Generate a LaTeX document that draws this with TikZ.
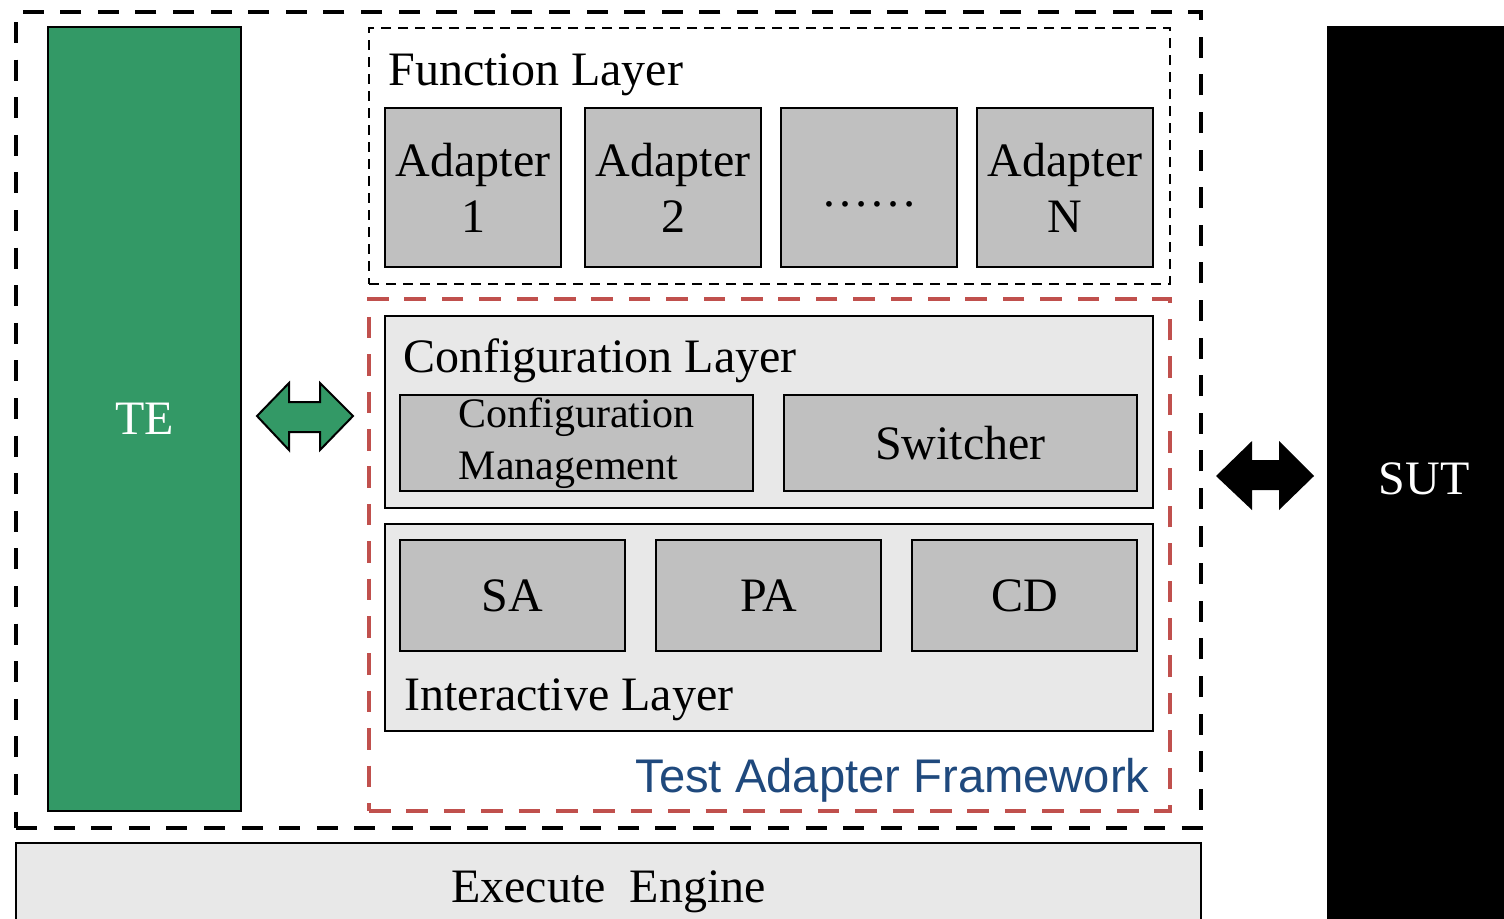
\documentclass[tikz,border=0pt]{standalone}
\usepackage{fontspec}
\setmainfont{Liberation Serif}
\newfontfamily\frameworkfont{Liberation Sans}
\definecolor{tegreen}{RGB}{51,153,102}
\definecolor{adgray}{RGB}{192,192,192}
\definecolor{laygray}{RGB}{232,232,232}
\definecolor{tafred}{RGB}{192,80,77}
\definecolor{tafblue}{RGB}{31,73,125}
\begin{document}
\begin{tikzpicture}[x=.5pt, y=-.5pt,
    box/.style={draw, line width=1.2pt, fill=adgray, inner sep=0pt, align=center, font=\fontsize{24}{28}\selectfont},
    layer/.style={draw, line width=1.2pt, fill=laygray, inner sep=0pt},
    lbl/.style={anchor=base west, inner sep=0pt, font=\fontsize{24}{28}\selectfont}]
\useasboundingbox (0,0) rectangle (1504,918);

% outer frame and the two big blocks
\node[draw, line width=2pt, dash pattern=on 10.5pt off 8.3pt, minimum width=592.5pt, minimum height=408pt] (outer) at (608.5,420) {};
\node[box, fill=tegreen, text=white, minimum width=96.5pt, minimum height=392pt] (te) at (144.5,419) {TE};
\node[box, fill=black, text=white, minimum width=96pt, minimum height=451.5pt] (sut) at (1424,478.5) {SUT};
\node[box, fill=laygray, minimum width=592.5pt, minimum height=49pt] (engine) at (608.5,892) {Execute\ \ Engine};

% function layer
\node[draw, line width=1pt, dash pattern=on 5pt off 3.5pt, minimum width=400.5pt, minimum height=128pt] (func) at (769.5,156) {};
\node[lbl] (funclbl) at (388,85) {Function Layer};
\node[box, minimum width=88pt, minimum height=79.5pt] (ad1) at (473,187.5) {Adapter\\1};
\node[box, minimum width=88pt, minimum height=79.5pt] (ad2) at (673,187.5) {Adapter\\2};
\node[box, minimum width=88pt, minimum height=79.5pt] (adx) at (869,187.5) {};
\node[anchor=base, inner sep=0pt, font=\fontsize{24}{28}\selectfont] (dots) at (869,206) {……};
\node[box, minimum width=88pt, minimum height=79.5pt] (adn) at (1065,187.5) {Adapter\\N};

% test adapter framework
\node[draw=tafred, line width=2pt, dash pattern=on 10.8pt off 7.9pt, minimum width=400.5pt, minimum height=256pt] (taf) at (769.5,555) {};
\node[anchor=base east, inner sep=0pt, text=tafblue, font=\frameworkfont\fontsize{23.6}{28}\selectfont] (taflbl) at (1150,792) {Test Adapter Framework};

\node[layer, minimum width=384pt, minimum height=96pt] (conf) at (769,412) {};
\node[lbl] (conflbl) at (403,372) {Configuration Layer};
\node[box, minimum width=176.5pt, minimum height=48pt, font=\fontsize{21}{26}\selectfont] (cm) at (576.5,443) {Configuration\\Management\hspace*{8pt}};
\node[box, minimum width=176.5pt, minimum height=48pt] (sw) at (960.5,443) {Switcher};

\node[layer, minimum width=384pt, minimum height=103.5pt] (inter) at (769,627.5) {};
\node[lbl] (interlbl) at (404,710) {Interactive Layer};
\node[box, minimum width=112.5pt, minimum height=55.5pt] (sa) at (512.5,595.5) {SA};
\node[box, minimum width=112.5pt, minimum height=55.5pt] (pa) at (768.5,595.5) {PA};
\node[box, minimum width=112.5pt, minimum height=55.5pt] (cd) at (1024.5,595.5) {CD};

% double arrows
\draw[line width=1pt, fill=tegreen] (257,416)--(289,383)--(289,402)--(320,402)--(320,383)--(353,416)
    --(320,450)--(320,432)--(289,432)--(289,450)--cycle;
\fill (1216,476)--(1252,441)--(1252,460)--(1279,460)--(1279,441)--(1314,476)
    --(1279,510)--(1279,490)--(1252,490)--(1252,510)--cycle;
\end{tikzpicture}
\end{document}
